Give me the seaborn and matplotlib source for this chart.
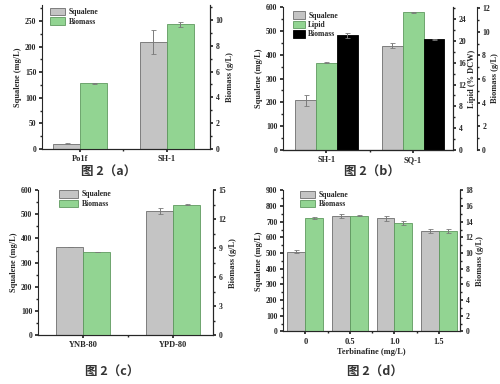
import numpy as np
import pandas as pd
import matplotlib
matplotlib.use('Agg')
import matplotlib.pyplot as plt
import seaborn as sns
from matplotlib.patches import Patch
from matplotlib.ticker import MultipleLocator, AutoMinorLocator, FixedLocator

# --- panel (a): strains ---
a_cats = ['Po1f', 'SH-1']
a_squalene = [10, 209]
a_squalene_err = [1.0, 23]
a_biomass = [5.1, 9.65]
a_biomass_err = [0.05, 0.22]

# --- panel (b): SH-1 vs SQ-1 ---
b_cats = ['SH-1', 'SQ-1']
b_squalene = [208, 438]
b_squalene_err = [24, 10]
b_lipid = [16.0, 25.2]
b_lipid_err = [0.1, 0.1]
b_biomass = [9.7, 9.38]
b_biomass_err = [0.2, 0.05]

# --- panel (c): media ---
c_cats = ['YNB-80', 'YPD-80']
c_squalene = [365, 514]
c_squalene_err = [1, 11]
c_biomass = [8.6, 13.5]
c_biomass_err = [0.05, 0.07]

# --- panel (d): terbinafine ---
d_cats = ['0', '0.5', '1.0', '1.5']
d_squalene = [510, 734, 721, 642]
d_squalene_err = [10, 13, 13, 13]
d_biomass = [14.5, 14.8, 13.85, 12.8]
d_biomass_err = [0.12, 0.08, 0.2, 0.25]

GRAY = '#c4c4c4'
GREEN = '#92d492'
BLACK = '#000000'
EDGES = {GRAY: '#6e6e6e', GREEN: '#5f9a5f', BLACK: '#000000'}

sns.set_theme(style='ticks')
plt.rcParams['font.family'] = ['Liberation Serif', 'DejaVu Serif']
plt.rcParams['font.weight'] = 'bold'
plt.rcParams['axes.labelweight'] = 'bold'
plt.rcParams['xtick.labelsize'] = 6
plt.rcParams['ytick.labelsize'] = 5.5
plt.rcParams['axes.labelsize'] = 6
plt.rcParams['axes.linewidth'] = 0.8
plt.rcParams['xtick.major.size'] = 2.5
plt.rcParams['ytick.major.size'] = 2.5
plt.rcParams['xtick.minor.size'] = 1.5
plt.rcParams['ytick.minor.size'] = 1.5
plt.rcParams['xtick.major.pad'] = 2
plt.rcParams['ytick.major.pad'] = 1.5


def draw_series(ax, cats, name, order, values, errors, width, color):
    """Draws one series of a dodged bar group on its own y axis."""
    df = pd.DataFrame({'cat': cats, 'series': name, 'value': values})
    palette = {s: color for s in order}
    sns.barplot(data=df, x='cat', y='value', hue='series', hue_order=order,
                order=cats, width=width, palette=palette, errorbar=None,
                dodge=True, edgecolor=EDGES[color], linewidth=0.6,
                saturation=1, legend=False, ax=ax)
    xs = [p.get_x() + p.get_width() / 2 for p in ax.patches]
    ax.errorbar(xs, values, yerr=errors, fmt='none', ecolor='#7a7a7a',
                elinewidth=0.7, capsize=1.8, capthick=0.6)
    ax.set_xlabel('')


def style_axis(ax, ylim, step, ylabel, pad=2):
    ax.set_ylim(*ylim)
    ax.yaxis.set_major_locator(MultipleLocator(step))
    ax.yaxis.set_minor_locator(AutoMinorLocator(2))
    ax.set_ylabel(ylabel, labelpad=pad)
    ax.spines['top'].set_visible(False)


def panel(rect, cats, series, width, xlim, left, rights, xlabel=None,
          legend_anchor=(0.02, 1.02), handlelength=2.0):
    ax = fig.add_axes(rect)
    order = [s[0] for s in series]
    axes = [ax]
    for i in range(1, len(series)):
        axes.append(ax.twinx())
    for a, (name, vals, errs, color) in zip(axes, series):
        draw_series(a, cats, name, order, vals, errs, width, color)
    style_axis(ax, *left)
    for k, (a, spec) in enumerate(zip(axes[1:], rights)):
        style_axis(a, *spec)
        a.spines['left'].set_visible(False)
        if k > 0:
            a.spines['right'].set_position(('outward', 17))
    ax.set_xlim(*xlim)
    ax.xaxis.set_minor_locator(FixedLocator(np.arange(len(cats) - 1) + 0.5))
    if xlabel:
        ax.set_xlabel(xlabel, labelpad=2)
    handles = [Patch(facecolor=c, edgecolor=EDGES[c], linewidth=0.6, label=n)
               for n, _, _, c in series]
    axes[-1].legend(handles=handles, loc='upper left',
                    bbox_to_anchor=legend_anchor, frameon=False, fontsize=5.5,
                    handlelength=handlelength, handleheight=1.1,
                    labelspacing=0.15, borderaxespad=0, handletextpad=0.4)
    return ax


fig = plt.figure(figsize=(5, 3.84), dpi=100)

panel([0.084, 0.612, 0.336, 0.375], a_cats,
      [('Squalene', a_squalene, a_squalene_err, GRAY),
       ('Biomass', a_biomass, a_biomass_err, GREEN)],
      0.62, (-0.44, 1.5),
      ((0, 281), 50, 'Squalene (mg/L)'),
      [((0, 11.16), 2, 'Biomass (g/L)')],
      legend_anchor=(0.03, 1.0))

panel([0.566, 0.609, 0.34, 0.373], b_cats,
      [('Squalene', b_squalene, b_squalene_err, GRAY),
       ('Lipid', b_lipid, b_lipid_err, GREEN),
       ('Biomass', b_biomass, b_biomass_err, BLACK)],
      0.72, (-0.5, 1.46),
      ((0, 600), 100, 'Squalene (mg/L)'),
      [((0, 26.2), 4, 'Lipid (% DCW)', 1),
       ((0, 12.1), 2, 'Biomass (g/L)', 1)],
      legend_anchor=(0.04, 0.99), handlelength=1.6)

panel([0.076, 0.127, 0.35, 0.378], c_cats,
      [('Squalene', c_squalene, c_squalene_err, GRAY),
       ('Biomass', c_biomass, c_biomass_err, GREEN)],
      0.6, (-0.5, 1.44),
      ((0, 600), 100, 'Squalene (mg/L)'),
      [((0, 15), 3, 'Biomass (g/L)')],
      legend_anchor=(0.1, 1.02), handlelength=2.6)

panel([0.566, 0.137, 0.354, 0.367], d_cats,
      [('Squalene', d_squalene, d_squalene_err, GRAY),
       ('Biomass', d_biomass, d_biomass_err, GREEN)],
      0.8, (-0.5, 3.47),
      ((0, 900), 100, 'Squalene (mg/L)'),
      [((0, 18), 2, 'Biomass (g/L)')],
      xlabel='Terbinafine (mg/L)', legend_anchor=(0.08, 1.02))

cjk = ['Noto Sans CJK SC', 'DejaVu Sans']
for x, y, t in [(109, 172, '图 2（a）'), (372, 172, '图 2（b）'),
                (112, 372, '图 2（c）'), (375, 372, '图 2（d）')]:
    fig.text(x / 500, 1 - y / 384, t, ha='center', va='center',
             fontsize=9, fontweight='bold', family=cjk, color='#333333')

fig.savefig('out.png', dpi=100, facecolor='white')
